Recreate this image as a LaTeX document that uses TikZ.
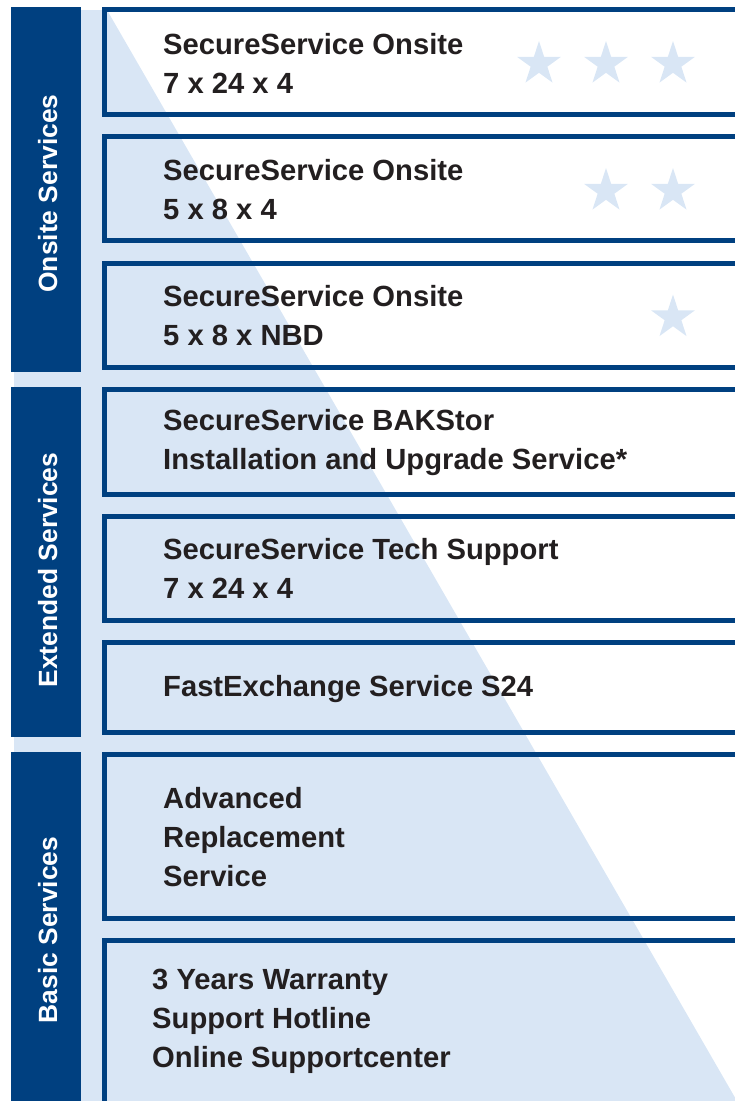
\documentclass[tikz,border=0pt]{standalone}
\usepackage{fontspec}
\setmainfont{Liberation Sans}
\usetikzlibrary{shapes.geometric}
\definecolor{svcdark}{RGB}{0,64,128}
\definecolor{svclight}{RGB}{217,230,245}
\definecolor{svctext}{RGB}{35,31,32}

\begin{document}
\begin{tikzpicture}[x=1bp, y=-1bp,
    svcbox/.style={draw=svcdark, line width=5bp},
    svctitle/.style={anchor=base west, inner sep=0pt, align=left, text=svctext, font=\bfseries\fontsize{29.3}{39}\selectfont},
    svclabel/.style={rotate=90, anchor=base, inner sep=0pt, text=white, font=\bfseries\fontsize{26.5}{30}\selectfont},
    svcstar/.style={star, star points=5, star point ratio=2.618, minimum size=46bp, inner sep=0pt, fill=svclight}]
    \useasboundingbox (0,0) rectangle (735,1101);
    \clip (0,0) rectangle (735,1101);
    % light wedge behind everything
    \fill[svclight] (14,10) -- (107,10) -- (737,1101) -- (14,1101) -- cycle;
    % group bands
    \fill[svcdark] (11,7) rectangle (81,372);
    \fill[svcdark] (11,387) rectangle (81,737);
    \fill[svcdark] (11,752) rectangle (81,1110);
    \node[svclabel] (onsitelabel) at (57,193.5) {Onsite Services};
    \node[svclabel] (extendedlabel) at (57,570) {Extended Services};
    \node[svclabel] (basiclabel) at (57,930) {Basic Services};
    % service boxes
    \foreach \t/\b in {9.5/114.5, 136.5/240.5, 263/367.5, 389/494.5, 516/620, 642/732, 754.5/918, 940.5/1120}
        \draw[svcbox] (104.5,\t) rectangle (760,\b);
    % stars
    \foreach \x/\y/\n in {539/64/a, 606/64/b, 673/64/c, 606/191/d, 673/191/e, 673/317.5/f}
        \node[svcstar] (star\n) at (\x,\y) {};
    % texts (placed at the baseline of their last line)
    \node[svctitle] (onsiteA) at (163,93) {SecureService Onsite\\7 x 24 x 4};
    \node[svctitle] (onsiteB) at (163,219) {SecureService Onsite\\5 x 8 x 4};
    \node[svctitle] (onsiteC) at (163,345) {SecureService Onsite\\5 x 8 x NBD};
    \node[svctitle] (bakstor) at (163,469) {SecureService BAKStor\\Installation and Upgrade Service*};
    \node[svctitle] (techsupport) at (163,598) {SecureService Tech Support\\7 x 24 x 4};
    \node[svctitle] (fastexchange) at (163,696) {FastExchange Service S24};
    \node[svctitle] (advanced) at (163,886) {Advanced\\Replacement\\Service};
    \node[svctitle] (warranty) at (152,1067) {3 Years Warranty\\Support Hotline\\Online Supportcenter};
\end{tikzpicture}
\end{document}
